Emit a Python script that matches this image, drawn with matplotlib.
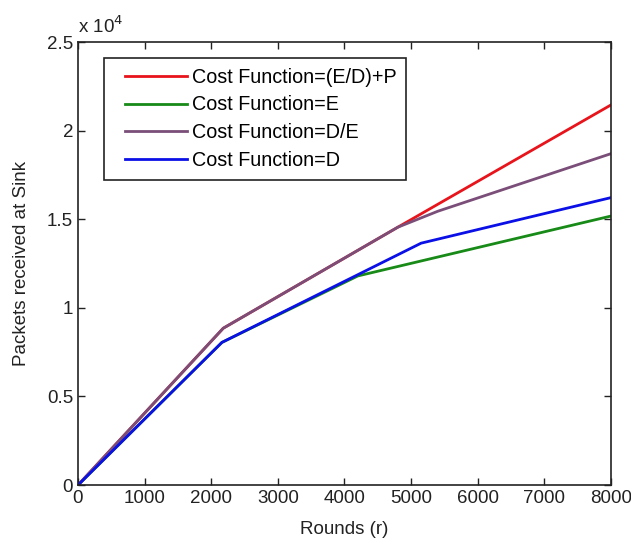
import matplotlib
matplotlib.use("Agg")
import matplotlib.pyplot as plt
from matplotlib.ticker import FuncFormatter
from matplotlib.legend_handler import HandlerLine2D

plt.rcParams['font.family'] = ['Liberation Sans', 'DejaVu Sans']

# rounds / packets received
rounds_ed_p = [0, 2180, 4800, 8000]
packets_ed_p = [0, 8850, 14550, 21450]

rounds_e = [0, 2160, 4200, 8000]
packets_e = [0, 8050, 11800, 15180]

rounds_d_e = [0, 2180, 4800, 5400, 8000]
packets_d_e = [0, 8850, 14550, 15450, 18700]

rounds_d = [0, 2160, 5150, 8000]
packets_d = [0, 8050, 13650, 16220]

labels = ['Cost Function=(E/D)+P', 'Cost Function=E',
          'Cost Function=D/E', 'Cost Function=D']
colors = ['#e8141c', '#178a17', '#7a4e78', '#0a10e6']

fig = plt.figure(figsize=(6.31, 5.42), dpi=100)
ax = fig.add_axes([0.1236, 0.105, 0.8447, 0.8175])

fs = 13.5
lines = []
lines += ax.plot(rounds_ed_p, packets_ed_p, color=colors[0], lw=2, label=labels[0])
lines += ax.plot(rounds_e, packets_e, color=colors[1], lw=2, label=labels[1])
lines += ax.plot(rounds_d_e, packets_d_e, color=colors[2], lw=2, label=labels[2])
lines += ax.plot(rounds_d, packets_d, color=colors[3], lw=2, label=labels[3])

ax.set_xlim(0, 8000)
ax.set_ylim(0, 25000)
ax.set_xticks(range(0, 8001, 1000))
ax.set_yticks([0, 5000, 10000, 15000, 20000, 25000])
ax.yaxis.set_major_formatter(FuncFormatter(lambda v, p: ('%g' % (v / 1e4))))
ax.tick_params(direction='in', top=True, right=True, length=5, width=1,
               labelsize=fs, colors='#222222', labelcolor='#222222')
for s in ax.spines.values():
    s.set_linewidth(1.2)
    s.set_color('#222222')

ax.set_xlabel('Rounds (r)', fontsize=fs, color='#222222', labelpad=10)
ax.set_ylabel('Packets received at Sink', fontsize=fs, color='#222222', labelpad=12)
ax.text(0, 1.012, r'x 10$^4$', transform=ax.transAxes, fontsize=fs,
        color='#222222', ha='left', va='bottom')

# legend font a bit larger than the ticks in the reference
hmap = {ln: HandlerLine2D(xpad=0.55) for ln in lines}
leg = ax.legend(loc='upper left', bbox_to_anchor=(0.049, 0.964), borderaxespad=0,
                fontsize=14.2, handlelength=3.7, handletextpad=0.25, labelspacing=0.44,
                fancybox=False, framealpha=1, edgecolor='#222222', borderpad=0.5,
                handler_map=hmap)
leg.get_frame().set_linewidth(1.2)

fig.savefig('out.png', dpi=100)
